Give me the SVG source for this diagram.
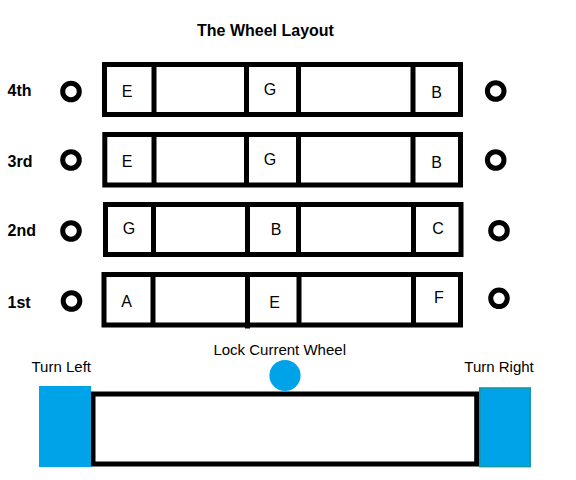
<svg xmlns="http://www.w3.org/2000/svg" width="576" height="480" viewBox="0 0 576 480">
<style>
.t{font-family:"Liberation Sans",Arial,sans-serif;fill:#000}
.b{font-weight:bold;font-size:16px}
.c{font-size:16px;text-anchor:middle}
.l{font-size:15px}
.box{fill:#fff;stroke:#000;stroke-width:5}
.div{stroke:#000;stroke-width:5}
.knob{fill:none;stroke:#000;stroke-width:5}
.blue{fill:#00A2E8}
</style>
<rect width="576" height="480" fill="#fff"/>
<text class="t b" x="265.5" y="36" text-anchor="middle">The Wheel Layout</text>

<g id="wheel4">
<text class="t b" x="7.5" y="96">4th</text>
<circle class="knob" cx="71" cy="91.5" r="8.3"/>
<rect class="box" x="104.5" y="64.5" width="356" height="50"/>
<line class="div" x1="154" y1="64.5" x2="154" y2="114.5"/>
<line class="div" x1="246.5" y1="64.5" x2="246.5" y2="114.5"/>
<line class="div" x1="298.5" y1="64.5" x2="298.5" y2="114.5"/>
<line class="div" x1="413" y1="64.5" x2="413" y2="114.5"/>
<text class="t c" x="127" y="97">E</text>
<text class="t c" x="270" y="95">G</text>
<text class="t c" x="436.7" y="97.5">B</text>
<circle class="knob" cx="495.7" cy="91" r="8.3"/>
</g>

<g id="wheel3">
<text class="t b" x="7.5" y="167">3rd</text>
<circle class="knob" cx="71" cy="160" r="8.3"/>
<rect class="box" x="104.8" y="134.5" width="355.7" height="50.5"/>
<line class="div" x1="154" y1="134.5" x2="154" y2="185"/>
<line class="div" x1="246.5" y1="134.5" x2="246.5" y2="185"/>
<line class="div" x1="298.5" y1="134.5" x2="298.5" y2="185"/>
<line class="div" x1="413" y1="134.5" x2="413" y2="185"/>
<text class="t c" x="127" y="166.5">E</text>
<text class="t c" x="270" y="165">G</text>
<text class="t c" x="436.7" y="167.5">B</text>
<circle class="knob" cx="495.7" cy="160" r="8.3"/>
</g>

<g id="wheel2">
<text class="t b" x="7.5" y="236">2nd</text>
<circle class="knob" cx="71" cy="231" r="8.3"/>
<rect class="box" x="105.5" y="204.5" width="355.5" height="50"/>
<line class="div" x1="153.5" y1="204.5" x2="153.5" y2="254.5"/>
<line class="div" x1="247.5" y1="204.5" x2="247.5" y2="254.5"/>
<line class="div" x1="298.5" y1="204.5" x2="298.5" y2="254.5"/>
<line class="div" x1="413.5" y1="204.5" x2="413.5" y2="254.5"/>
<text class="t c" x="129" y="234">G</text>
<text class="t c" x="276" y="235">B</text>
<text class="t c" x="438" y="234">C</text>
<circle class="knob" cx="499" cy="230.7" r="8.3"/>
</g>

<g id="wheel1">
<text class="t b" x="7.5" y="308">1st</text>
<circle class="knob" cx="71.5" cy="301" r="8.3"/>
<rect class="box" x="104" y="274.5" width="356.5" height="50.5"/>
<line class="div" x1="153" y1="274.5" x2="153" y2="325"/>
<line class="div" x1="247.5" y1="274.5" x2="247.5" y2="328.5"/>
<line class="div" x1="299" y1="274.5" x2="299" y2="325"/>
<line class="div" x1="413.5" y1="274.5" x2="413.5" y2="325"/>
<text class="t c" x="126.5" y="307">A</text>
<text class="t c" x="274.7" y="308">E</text>
<text class="t c" x="439" y="303">F</text>
<circle class="knob" cx="499" cy="298.3" r="8.3"/>
</g>

<g id="controls">
<rect class="box" x="93" y="394" width="383.7" height="70"/>
<g id="turn-left">
<rect class="blue" x="39" y="386" width="52" height="81"/>
<text class="t l" x="31.5" y="371.5">Turn Left</text>
</g>
<g id="lock">
<circle class="blue" cx="285" cy="375.5" r="15.6"/>
<text class="t l" x="279.7" y="355" text-anchor="middle">Lock Current Wheel</text>
</g>
<g id="turn-right">
<rect class="blue" x="479.8" y="388" width="50.4" height="78.6" stroke="#1598a8" stroke-width="1.6"/>
<text class="t l" x="464.3" y="371.5">Turn Right</text>
</g>
</g>
</svg>
